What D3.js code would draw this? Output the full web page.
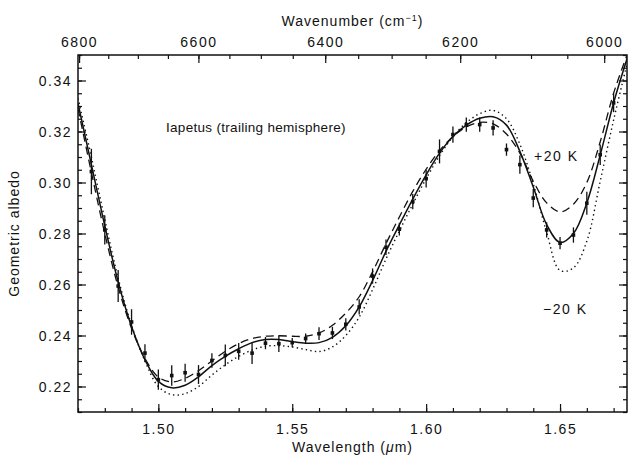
<!DOCTYPE html>
<html>
<head>
<meta charset="utf-8">
<title>Iapetus trailing hemisphere</title>
<script src="https://d3js.org/d3.v7.min.js"></script>
<style>
  body { margin: 0; background: #fff; }
  text { font-family: "Liberation Sans", Arial, sans-serif; fill: #111; }
  .tick line { stroke: #111; stroke-width: 1.2; }
</style>
</head>
<body>
<svg id="chart"></svg>
<script>
var width = 630, height = 458;
var margin = {top: 55, right: 3, bottom: 46, left: 78};

// model wavelengths (µm)
var modelWl = [1.470, 1.475, 1.480, 1.485, 1.490, 1.495, 1.500, 1.505, 1.510, 1.515,
               1.520, 1.525, 1.530, 1.535, 1.540, 1.545, 1.550, 1.555, 1.560, 1.565,
               1.570, 1.575, 1.580, 1.585, 1.590, 1.595, 1.600, 1.605, 1.610, 1.615,
               1.620, 1.625, 1.630, 1.635, 1.640, 1.645, 1.650, 1.655, 1.660, 1.665,
               1.670, 1.675];
// best fit (solid)
var bestFit = [0.3310, 0.3070, 0.2830, 0.2610, 0.2435, 0.2305, 0.2220, 0.2195, 0.2205, 0.2238,
               0.2282, 0.2318, 0.2348, 0.2372, 0.2384, 0.2384, 0.2376, 0.2370, 0.2372, 0.2393,
               0.2438, 0.2512, 0.2615, 0.2730, 0.2834, 0.2935, 0.3030, 0.3115, 0.3180, 0.3225,
               0.3252, 0.3258, 0.3225, 0.3122, 0.2982, 0.2835, 0.2765, 0.2800, 0.2920, 0.3108,
               0.3312, 0.3485];
// +20 K (dashed)
var plus20 = [0.3290, 0.3040, 0.2800, 0.2590, 0.2428, 0.2310, 0.2237, 0.2218, 0.2232, 0.2262,
              0.2300, 0.2338, 0.2368, 0.2388, 0.2397, 0.2399, 0.2397, 0.2397, 0.2410, 0.2440,
              0.2488, 0.2552, 0.2650, 0.2760, 0.2865, 0.2965, 0.3052, 0.3125, 0.3180, 0.3218,
              0.3236, 0.3230, 0.3190, 0.3115, 0.3005, 0.2920, 0.2885, 0.2915, 0.3000, 0.3160,
              0.3350, 0.3500];
// -20 K (dotted)
var minus20 = [0.3330, 0.3100, 0.2855, 0.2625, 0.2440, 0.2300, 0.2200, 0.2168, 0.2172, 0.2200,
               0.2245, 0.2285, 0.2318, 0.2343, 0.2358, 0.2360, 0.2355, 0.2345, 0.2337, 0.2355,
               0.2400, 0.2472, 0.2580, 0.2700, 0.2810, 0.2915, 0.3015, 0.3105, 0.3180, 0.3235,
               0.3270, 0.3283, 0.3250, 0.3150, 0.2995, 0.2805, 0.2655, 0.2665, 0.2770, 0.3005,
               0.3245, 0.3465];

// observed spectrum
var obsWl = [1.475, 1.480, 1.485, 1.490, 1.495, 1.500, 1.505, 1.510, 1.515, 1.520,
             1.525, 1.530, 1.535, 1.540, 1.545, 1.550, 1.555, 1.560, 1.565, 1.570,
             1.575, 1.580, 1.585, 1.590, 1.595, 1.600, 1.605, 1.610, 1.615, 1.620,
             1.625, 1.630, 1.635, 1.640, 1.645, 1.650, 1.655, 1.660, 1.665, 1.670];
var obsAlb = [0.3043, 0.2814, 0.2594, 0.2453, 0.2331, 0.2227, 0.2243, 0.2254, 0.2247, 0.2302,
              0.2322, 0.2338, 0.2331, 0.2370, 0.2368, 0.2372, 0.2388, 0.2407, 0.2410, 0.2444,
              0.2512, 0.2633, 0.2746, 0.2817, 0.2925, 0.3015, 0.3122, 0.3188, 0.3227, 0.3227,
              0.3214, 0.3129, 0.3070, 0.2939, 0.2814, 0.2762, 0.2794, 0.2919, 0.3109, 0.3312];
var obsErr = [0.0089, 0.0057, 0.0063, 0.0050, 0.0035, 0.0040, 0.0040, 0.0035, 0.0037, 0.0028,
              0.0043, 0.0033, 0.0043, 0.0024, 0.0033, 0.0018, 0.0020, 0.0025, 0.0024, 0.0024,
              0.0030, 0.0030, 0.0030, 0.0025, 0.0030, 0.0035, 0.0047, 0.0032, 0.0028, 0.0028,
              0.0030, 0.0024, 0.0036, 0.0036, 0.0030, 0.0024, 0.0030, 0.0045, 0.0040, 0.0036];

var xTicks = [1.50, 1.55, 1.60, 1.65];
var yTicks = [0.22, 0.24, 0.26, 0.28, 0.30, 0.32, 0.34];
var wnTicks = [6800, 6600, 6400, 6200, 6000];

var x0 = margin.left, x1 = width - margin.right;
var y0 = margin.top, y1 = height - margin.bottom;

var svg = d3.select("#chart").attr("width", width).attr("height", height);

var x = d3.scaleLinear().domain([1.47, 1.675]).range([x0, x1]);
var y = d3.scaleLinear().domain([0.21, 0.35]).range([y1, y0]);

svg.append("clipPath").attr("id", "plot")
  .append("rect").attr("x", x0).attr("y", y0)
  .attr("width", x1 - x0).attr("height", y1 - y0);

// bottom axis
svg.append("g").attr("transform", "translate(0," + y1 + ")")
  .call(d3.axisBottom(x).tickValues(x.ticks(20)).tickSize(-4).tickFormat(""))
  .call(g => g.select(".domain").remove());
var xAxis = svg.append("g").attr("transform", "translate(0," + y1 + ")")
  .call(d3.axisBottom(x).tickValues(xTicks).tickSize(-8).tickFormat(d3.format(".2f")))
  .call(g => g.select(".domain").remove());
xAxis.selectAll("text").attr("y", 22).attr("dy", 0)
  .style("font-size", "14px").style("letter-spacing", "1.5px");

// left axis
svg.append("g").attr("transform", "translate(" + x0 + ",0)")
  .call(d3.axisLeft(y).tickValues(y.ticks(28)).tickSize(-4).tickFormat(""))
  .call(g => g.select(".domain").remove());
var yAxis = svg.append("g").attr("transform", "translate(" + x0 + ",0)")
  .call(d3.axisLeft(y).tickValues(yTicks).tickSize(-8).tickFormat(d3.format(".2f")))
  .call(g => g.select(".domain").remove());
yAxis.selectAll("text").attr("x", -6).attr("dy", "0.36em")
  .style("font-size", "14px").style("letter-spacing", "1.5px");

// right axis
svg.append("g").attr("transform", "translate(" + x1 + ",0)")
  .call(d3.axisRight(y).tickValues(y.ticks(28)).tickSize(-4).tickFormat(""))
  .call(g => g.select(".domain").remove());
svg.append("g").attr("transform", "translate(" + x1 + ",0)")
  .call(d3.axisRight(y).tickValues(yTicks).tickSize(-8).tickFormat(""))
  .call(g => g.select(".domain").remove());

// top axis: wavenumber (cm^-1) = 1e4 / wavelength (µm)
var wnMinor = d3.range(6000, 6801, 50);
var topAxis = svg.append("g");
topAxis.selectAll("line.minor").data(wnMinor).join("line").attr("class", "minor")
  .attr("x1", d => x(1e4 / d)).attr("x2", d => x(1e4 / d))
  .attr("y1", y0).attr("y2", y0 + 4)
  .attr("stroke", "#111").attr("stroke-width", 1.2);
topAxis.selectAll("line.major").data(wnTicks).join("line").attr("class", "major")
  .attr("x1", d => x(1e4 / d)).attr("x2", d => x(1e4 / d))
  .attr("y1", y0).attr("y2", y0 + 8)
  .attr("stroke", "#111").attr("stroke-width", 1.2);
topAxis.selectAll("text").data(wnTicks).join("text")
  .attr("x", d => x(1e4 / d)).attr("y", y0 - 8)
  .attr("text-anchor", "middle")
  .style("font-size", "14px").style("letter-spacing", "1.5px")
  .text(d => d);

// frame
svg.append("rect").attr("x", x0).attr("y", y0)
  .attr("width", x1 - x0).attr("height", y1 - y0)
  .attr("fill", "none").attr("stroke", "#111").attr("stroke-width", 1.5);

// model curves
var line = d3.line().x(d => x(d[0])).y(d => y(d[1])).curve(d3.curveCatmullRom);
var curves = svg.append("g").attr("clip-path", "url(#plot)");
curves.append("path").datum(d3.zip(modelWl, minus20)).attr("d", line)
  .attr("fill", "none").attr("stroke", "#111").attr("stroke-width", 1.4)
  .attr("stroke-dasharray", "1.4,3.2");
curves.append("path").datum(d3.zip(modelWl, plus20)).attr("d", line)
  .attr("fill", "none").attr("stroke", "#111").attr("stroke-width", 1.3)
  .attr("stroke-dasharray", "8,5");
curves.append("path").datum(d3.zip(modelWl, bestFit)).attr("d", line)
  .attr("fill", "none").attr("stroke", "#111").attr("stroke-width", 1.5);

// observed points with error bars
var obs = d3.zip(obsWl, obsAlb, obsErr);
var pts = svg.append("g");
pts.selectAll("line").data(obs).join("line")
  .attr("x1", d => x(d[0])).attr("x2", d => x(d[0]))
  .attr("y1", d => y(d[1] - d[2])).attr("y2", d => y(d[1] + d[2]))
  .attr("stroke", "#111").attr("stroke-width", 1.3);
pts.selectAll("rect").data(obs).join("rect")
  .attr("x", d => x(d[0]) - 1.8).attr("y", d => y(d[1]) - 1.8)
  .attr("width", 3.6).attr("height", 3.6).attr("fill", "#111");

// labels
svg.append("text").attr("x", 166).attr("y", 132)
  .style("font-size", "13.5px").style("letter-spacing", "0.3px")
  .text("Iapetus (trailing hemisphere)");
svg.append("text").attr("x", 534).attr("y", 161)
  .style("font-size", "14px").style("letter-spacing", "1.5px")
  .text("+20 K");
svg.append("text").attr("x", 543).attr("y", 314)
  .style("font-size", "14px").style("letter-spacing", "1.5px")
  .text("\u221220 K");

var xt = svg.append("text").attr("x", (x0 + x1) / 2).attr("y", 452)
  .attr("text-anchor", "middle")
  .style("font-size", "14px").style("letter-spacing", "1px");
xt.append("tspan").text("Wavelength (");
xt.append("tspan").style("font-style", "italic").text("\u03bc");
xt.append("tspan").text("m)");

var tt = svg.append("text").attr("x", (x0 + x1) / 2).attr("y", 26)
  .attr("text-anchor", "middle")
  .style("font-size", "14px").style("letter-spacing", "1px");
tt.append("tspan").text("Wavenumber (cm");
tt.append("tspan").attr("dy", -5).style("font-size", "9px").text("\u22121");
tt.append("tspan").attr("dy", 5).text(")");

svg.append("text")
  .attr("transform", "translate(19," + ((y0 + y1) / 2) + ") rotate(-90)")
  .attr("text-anchor", "middle")
  .style("font-size", "14px").style("letter-spacing", "1px")
  .text("Geometric albedo");
</script>
</body>
</html>
